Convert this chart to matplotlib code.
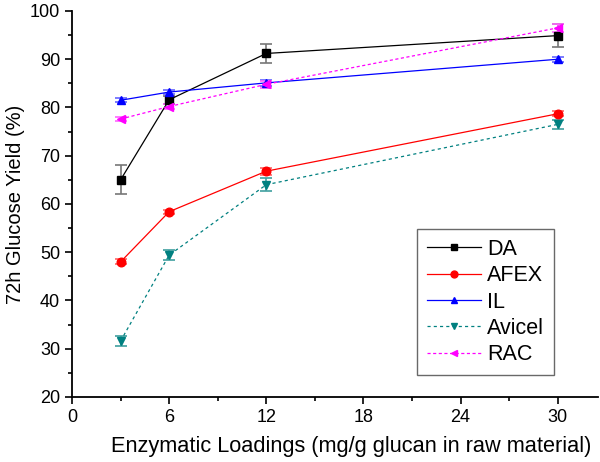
import matplotlib
matplotlib.use('Agg')
import matplotlib.pyplot as plt
from matplotlib.ticker import MultipleLocator

plt.rcParams['font.family'] = ['Liberation Sans', 'DejaVu Sans']

# Enzyme loadings (mg/g glucan)
loadings = [3, 6, 12, 30]

# 72 h glucose yields (%) and error bars
da = [65.0, 81.6, 91.2, 94.9]
da_err = [3.0, 0.8, 1.9, 2.4]
afex = [48.0, 58.4, 66.8, 78.7]
afex_err = [0.5, 0.4, 0.7, 0.5]
il = [81.5, 83.2, 85.1, 90.0]
il_err = [0.4, 0.5, 0.6, 0.5]
avicel = [31.6, 49.4, 64.0, 76.5]
avicel_err = [1.1, 1.0, 1.4, 1.0]
rac = [77.6, 80.2, 84.8, 96.5]
rac_err = [0.4, 0.6, 0.7, 0.9]

series = [
    ('DA', da, da_err, 'black', '#777777', 's', '-'),
    ('AFEX', afex, afex_err, 'red', '#ff6666', 'o', '-'),
    ('IL', il, il_err, 'blue', '#6666ff', '^', '-'),
    ('Avicel', avicel, avicel_err, '#008080', '#40a0a0', 'v', (0, (2.5, 2.5))),
    ('RAC', rac, rac_err, 'magenta', '#ff66ff', '<', (0, (2.5, 2))),
]

fig = plt.figure(figsize=(6, 4.62), dpi=100)
ax = fig.add_axes([0.12, 0.1407, 0.877, 0.8355])

for name, vals, errs, col, ecol, mk, ls in series:
    ax.errorbar(loadings, vals, yerr=errs, fmt='none', ecolor=ecol,
                elinewidth=1.2, capsize=4, capthick=1.2, zorder=2)
    ax.plot(loadings, vals, color=col, marker=mk, markersize=6.2,
            linestyle=ls, linewidth=0.9, label=name, zorder=3)

ax.set_xlim(0, 32.5)
ax.set_ylim(20, 100)
ax.xaxis.set_major_locator(MultipleLocator(6))
ax.xaxis.set_minor_locator(MultipleLocator(3))
ax.yaxis.set_major_locator(MultipleLocator(10))
ax.yaxis.set_minor_locator(MultipleLocator(5))
ax.tick_params(which='major', direction='out', length=5, width=1.2, labelsize=13)
ax.tick_params(which='minor', direction='out', length=3, width=1.2)

ax.spines['top'].set_visible(False)
ax.spines['right'].set_visible(False)
ax.spines['left'].set_linewidth(1.3)
ax.spines['bottom'].set_linewidth(1.3)

ax.set_ylabel('72h Glucose Yield (%)', fontsize=14.5)
ax.set_xlabel('Enzymatic Loadings (mg/g glucan in raw material)', fontsize=15.7)
ax.xaxis.set_label_coords(0.53, -0.1)
ax.yaxis.set_label_coords(-0.09, 0.5)

leg = ax.legend(loc='upper left', bbox_to_anchor=(0.656, 0.435), fontsize=15.5,
                frameon=True, fancybox=False, handlelength=2.5, markerscale=0.8,
                handletextpad=0.3, labelspacing=0.25, borderpad=0.45,
                borderaxespad=0)
leg.get_frame().set_edgecolor('#444444')
leg.get_frame().set_linewidth(1.0)

fig.savefig('out.png', dpi=100)
